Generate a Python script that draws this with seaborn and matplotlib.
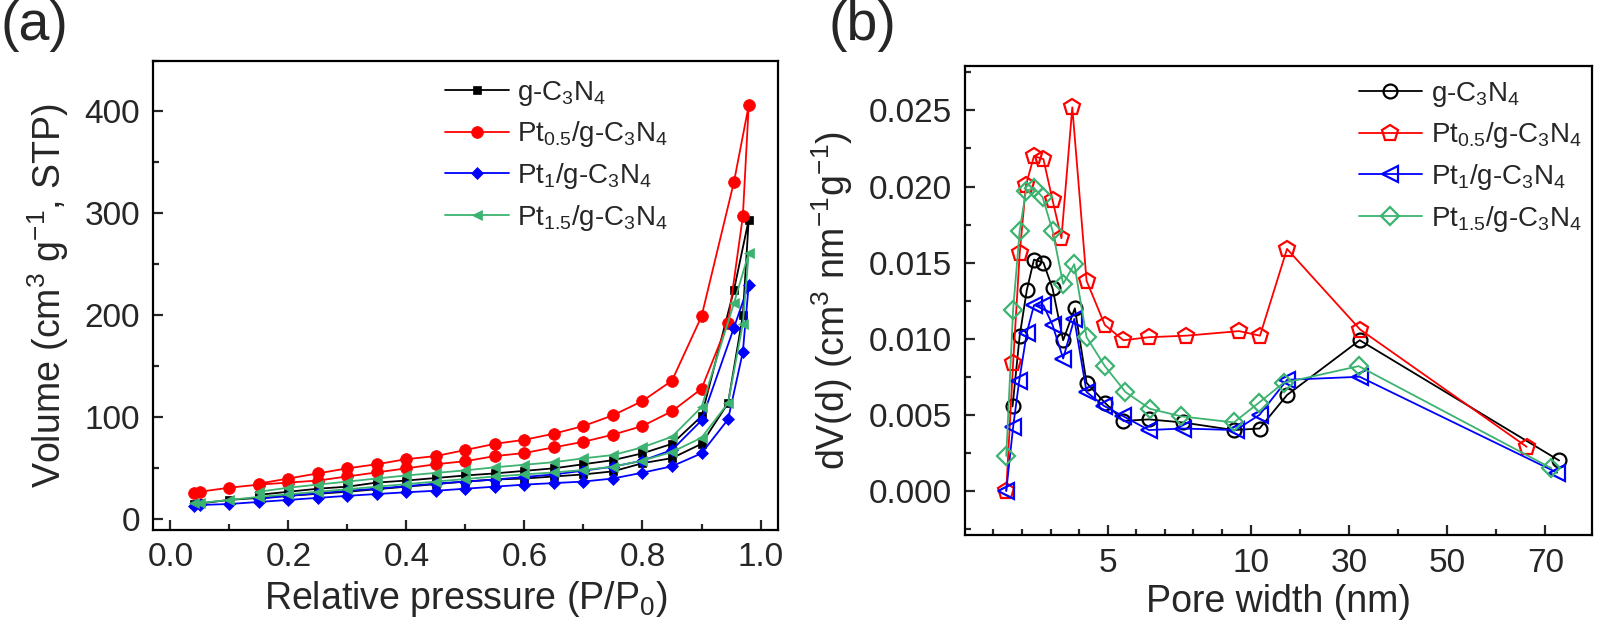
import numpy as np
import pandas as pd
import seaborn as sns
import matplotlib.pyplot as plt
from matplotlib.ticker import MultipleLocator, FixedLocator, FormatStrFormatter

# ---- (a) N2 adsorption/desorption isotherms ----
p_ads = [0.04, 0.05, 0.10, 0.15, 0.20, 0.25, 0.30, 0.35, 0.40, 0.45, 0.50,
         0.55, 0.60, 0.65, 0.70, 0.75, 0.80, 0.85, 0.90, 0.945, 0.97, 0.98]
p_des = [0.955, 0.90, 0.85, 0.80, 0.75, 0.70, 0.65, 0.60, 0.55, 0.50, 0.45,
         0.40, 0.35, 0.30, 0.25, 0.20, 0.15]

cn_ads = [15, 15.5, 19, 21, 23, 25, 27, 29.5, 32, 34.5, 37, 39, 40, 42, 44, 47, 55, 60, 74, 114, 200, 294]
cn_des = [225, 101, 74, 64.7, 58, 54, 50, 47.5, 45, 43, 40.5, 38, 36, 32, 30, 27, 24]
pt05_ads = [26, 27, 31, 34, 36, 38, 42, 46, 50, 54, 57, 62, 65, 70.6, 76, 83, 91.5, 106, 128, 193, 297, 406]
pt05_des = [331, 199, 136, 116, 102, 91.5, 84, 78, 74, 68, 62, 59, 54, 50, 45, 40, 35]
pt1_ads = [13.5, 14, 15, 17, 19, 21, 23, 24.8, 26.5, 28, 30, 32, 34, 35.5, 37, 40, 45.7, 52, 64.7, 98, 164, 230]
pt1_des = [188, 97, 68, 57.5, 51.6, 47.7, 44, 41.5, 39, 37, 35, 32.5, 30, 28, 25.5, 23, 20]
pt15_ads = [15.5, 16, 19, 22, 24.5, 27, 29.5, 32, 34.5, 37, 39.5, 42, 44, 46, 48.3, 51.6, 57.5, 66, 80, 114, 192, 261]
pt15_des = [212, 110, 81, 70.6, 63, 59.8, 56, 53.5, 51, 48, 45.5, 43, 40, 37, 34, 31, 27]

# ---- (b) pore size distribution ----
cn_w = [1.67, 1.92, 2.17, 2.42, 2.75, 3.07, 3.44, 3.85, 4.26, 4.90, 5.55, 6.44, 7.62, 9.41, 11.8, 17.4, 32.2, 72.8]
cn_dv = [0.00555, 0.0102, 0.0132, 0.0152, 0.0150, 0.0133, 0.0099, 0.0120, 0.0071, 0.0058, 0.0046,
         0.0047, 0.0045, 0.0040, 0.0041, 0.0063, 0.0099, 0.0020]
pt05_w = [1.45, 1.69, 1.92, 2.14, 2.42, 2.75, 3.07, 3.38, 3.76, 4.26, 4.90, 5.55, 6.44, 7.75, 9.59, 11.9, 17.4, 32.3, 66.2]
pt05_dv = [0.0, 0.0084, 0.0156, 0.0201, 0.0220, 0.0218, 0.0191, 0.0166, 0.0252, 0.0138, 0.0109,
           0.0099, 0.0101, 0.0102, 0.0105, 0.0102, 0.0159, 0.0106, 0.0029]
pt1_w = [1.45, 1.69, 1.90, 2.17, 2.42, 2.75, 3.07, 3.44, 3.83, 4.26, 4.86, 5.55, 6.44, 7.62, 9.48, 11.8, 17.4, 32.2, 72.4]
pt1_dv = [0.0, 0.0042, 0.0072, 0.0104, 0.0122, 0.0122, 0.0109, 0.0087, 0.0113, 0.0065, 0.0056,
          0.0049, 0.0040, 0.0041, 0.0040, 0.0050, 0.0073, 0.0075, 0.0012]
pt15_w = [1.45, 1.69, 1.92, 2.14, 2.42, 2.72, 3.07, 3.44, 3.83, 4.26, 4.90, 5.62, 6.47, 7.57, 9.41, 11.7, 16.7, 32.0, 71.2]
pt15_dv = [0.0023, 0.0119, 0.0171, 0.0197, 0.0199, 0.0193, 0.0171, 0.0136, 0.0149, 0.0101, 0.0082,
           0.0065, 0.0054, 0.0049, 0.0045, 0.0058, 0.0071, 0.0082, 0.0015]

labels = ['g-C$_3$N$_4$', 'Pt$_{0.5}$/g-C$_3$N$_4$', 'Pt$_1$/g-C$_3$N$_4$', 'Pt$_{1.5}$/g-C$_3$N$_4$']
colors = ['#000000', '#ff0000', '#0000ff', '#3cb371']

sns.set_style('ticks')
plt.rcParams['font.family'] = ['Liberation Sans', 'DejaVu Sans']
plt.rcParams['mathtext.default'] = 'regular'
plt.rcParams['axes.linewidth'] = 1.6

fig = plt.figure(figsize=(16, 6.37), dpi=100)
ax1 = fig.add_axes([0.0954, 0.168, 0.391, 0.737])
ax2 = fig.add_axes([0.603, 0.160, 0.392, 0.736])

# isotherms: adsorption branch then desorption branch as one path
iso = [(cn_ads, cn_des, 's', 6), (pt05_ads, pt05_des, 'o', 8.5),
       (pt1_ads, pt1_des, 'D', 6), (pt15_ads, pt15_des, '<', 7.5)]
for (ads, des, mk, ms), lab, col in zip(iso, labels, colors):
    df = pd.DataFrame({'p': p_ads + p_des, 'v': ads + des})
    sns.lineplot(data=df, x='p', y='v', sort=False, estimator=None, ax=ax1,
                 color=col, marker=mk, markersize=ms, markeredgewidth=0.5,
                 markeredgecolor=col, linewidth=1.3, label=lab)

ax1.set_xlim(-0.03, 1.03)
ax1.set_ylim(-10.5, 450)
ax1.xaxis.set_major_locator(MultipleLocator(0.2))
ax1.xaxis.set_minor_locator(MultipleLocator(0.1))
ax1.xaxis.set_major_formatter(FormatStrFormatter('%.1f'))
ax1.yaxis.set_major_locator(MultipleLocator(100))
ax1.yaxis.set_minor_locator(MultipleLocator(50))
ax1.set_xlabel('Relative pressure (P/P$_0$)', fontsize=27, labelpad=4)
ax1.set_ylabel('Volume (cm$^3$ g$^{-1}$, STP)', fontsize=27, labelpad=10)
ax1.legend(frameon=False, loc='upper left', bbox_to_anchor=(0.45, 0.985), fontsize=20,
           handlelength=2.3, handletextpad=0.3, labelspacing=0.42, borderaxespad=0)


# piecewise linear pore-width axis: 0-10 nm stretched, 10-80 nm compressed
k = 0.1718


def fwd(x):
    x = np.asarray(x, dtype=float)
    return np.where(x <= 10, x, 10 + (x - 10) * k)


def inv(u):
    u = np.asarray(u, dtype=float)
    return np.where(u <= 10, u, 10 + (u - 10) / k)


psd = [(cn_w, cn_dv, 'o', 10), (pt05_w, pt05_dv, 'p', 12),
       (pt1_w, pt1_dv, '<', 11), (pt15_w, pt15_dv, 'D', 9.5)]
for (w, dv, mk, ms), lab, col in zip(psd, labels, colors):
    df = pd.DataFrame({'w': w, 'dv': dv})
    sns.lineplot(data=df, x='w', y='dv', sort=False, estimator=None, ax=ax2,
                 color=col, marker=mk, markersize=ms, markerfacecolor='none',
                 markeredgecolor=col, markeredgewidth=1.6, linewidth=1.3, label=lab)

ax2.set_xscale('function', functions=(fwd, inv))
ax2.set_xlim(0, 79.5)
ax2.set_ylim(-0.0029, 0.0279)
ax2.xaxis.set_major_locator(FixedLocator([5, 10, 30, 50, 70]))
ax2.xaxis.set_minor_locator(FixedLocator([1, 2, 3, 4, 6, 7, 8, 9, 20, 40, 60]))
ax2.xaxis.set_major_formatter(FormatStrFormatter('%d'))
ax2.xaxis.set_minor_formatter(plt.NullFormatter())
ax2.yaxis.set_major_locator(MultipleLocator(0.005))
ax2.yaxis.set_minor_locator(MultipleLocator(0.0025))
ax2.yaxis.set_major_formatter(FormatStrFormatter('%.3f'))
ax2.set_xlabel('Pore width (nm)', fontsize=27, labelpad=4)
ax2.set_ylabel('dV(d) (cm$^3$ nm$^{-1}$g$^{-1}$)', fontsize=27, labelpad=10)
ax2.legend(frameon=False, loc='upper left', bbox_to_anchor=(0.61, 0.995), fontsize=20,
           handlelength=2.3, handletextpad=0.3, labelspacing=0.42, borderaxespad=0)

for ax in (ax1, ax2):
    ax.tick_params(which='both', direction='in', top=False, right=False,
                   labelsize=24, width=1.6, pad=9)
    ax.tick_params(which='major', length=7)
    ax.tick_params(which='minor', length=4)
    for s in ax.spines.values():
        s.set_visible(True)
        s.set_color('black')

fig.text(0.0, 1.0, '(a)', fontsize=40, va='top', ha='left')
fig.text(0.518, 1.0, '(b)', fontsize=40, va='top', ha='left')

fig.savefig('out.png', dpi=100)
